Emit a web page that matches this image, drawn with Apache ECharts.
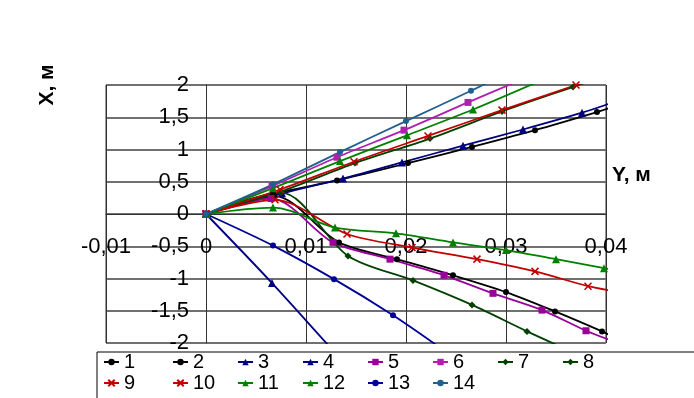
<!DOCTYPE html>
<html>
<head>
<meta charset="utf-8">
<script src="https://cdn.jsdelivr.net/npm/echarts@6/dist/echarts.min.js"></script>
<style>
  html, body { margin: 0; padding: 0; background: #fff; }
  #chart { width: 694px; height: 398px; }
</style>
</head>
<body>
<div id="chart"></div>
<script>
// Кривые X(Y), точки [Y, X] в метрах
const names = ['1', '2', '3', '4', '5', '6', '7', '8', '9', '10', '11', '12', '13', '14'];

const s1 = [[0, 0], [0.0068, 0.28], [0.0133, -0.44], [0.0191, -0.70], [0.0247, -0.95], [0.0300, -1.21], [0.0349, -1.51], [0.0396, -1.82], [0.0405, -1.89]];
const s2 = [[0, 0], [0.0067, 0.31], [0.0131, 0.52], [0.0202, 0.79], [0.0266, 1.04], [0.0329, 1.30], [0.0391, 1.58], [0.0405, 1.65]];
const s3 = [[0, 0], [0.0066, -1.07], [0.0126, -2.1]];
const s4 = [[0, 0], [0.0076, 0.32], [0.0137, 0.55], [0.0196, 0.80], [0.0257, 1.06], [0.0317, 1.31], [0.0376, 1.57], [0.0405, 1.72]];
const s5 = [[0, 0], [0.0065, 0.24], [0.0127, -0.44], [0.0184, -0.70], [0.0238, -0.95], [0.0287, -1.23], [0.0336, -1.49], [0.0380, -1.81], [0.0405, -1.96]];
const s6 = [[0, 0], [0.0066, 0.43], [0.0131, 0.88], [0.0198, 1.30], [0.0262, 1.73], [0.0312, 2.06]];
const s7 = [[0, 0], [0.0075, 0.33], [0.0142, -0.65], [0.0207, -1.03], [0.0266, -1.41], [0.0321, -1.82], [0.0355, -2.06]];
const s8 = [[0, 0], [0.0075, 0.35], [0.0149, 0.79], [0.0224, 1.17], [0.0296, 1.59], [0.0367, 1.97], [0.0380, 2.04]];
const s9 = [[0, 0], [0.0069, 0.22], [0.0141, -0.31], [0.0206, -0.52], [0.0271, -0.70], [0.0329, -0.89], [0.0382, -1.12], [0.0405, -1.19]];
const s10 = [[0, 0], [0.0074, 0.38], [0.0148, 0.81], [0.0222, 1.21], [0.0296, 1.61], [0.0370, 2.00], [0.0382, 2.06]];
const s11 = [[0, 0], [0.0067, 0.10], [0.0129, -0.21], [0.0190, -0.30], [0.0247, -0.44], [0.0300, -0.56], [0.0350, -0.70], [0.0398, -0.84], [0.0405, -0.86]];
const s12 = [[0, 0], [0.0067, 0.40], [0.0134, 0.82], [0.0201, 1.22], [0.0267, 1.62], [0.0332, 2.05]];
const s13 = [[0, 0], [0.0067, -0.49], [0.0128, -1.01], [0.0187, -1.57], [0.0232, -2.05]];
const s14 = [[0, 0], [0.0067, 0.46], [0.0134, 0.96], [0.0200, 1.44], [0.0265, 1.91], [0.0290, 2.1]];

const curves = [s1, s2, s3, s4, s5, s6, s7, s8, s9, s10, s11, s12, s13, s14];

// оформление
const colors = ['#000000', '#000000', '#000080', '#000080', '#990099', '#b020b0', '#004000', '#004000',
    '#c00000', '#c00000', '#008000', '#008000', '#000099', '#1f6090'];
const cross = 'path://M0,0L10,10M10,0L0,10';
const symbols = ['circle', 'circle', 'triangle', 'triangle', 'rect', 'rect', 'diamond', 'diamond',
    cross, cross, 'triangle', 'triangle', 'circle', 'circle'];
const sizes = [6, 6, 8, 8, 7, 7, 7, 7, 7, 7, 8, 8, 6, 6];

const legendX = [103, 172, 237, 302, 367, 432, 497, 562, 103, 172, 237, 302, 367, 432];
const legendY = [352, 352, 352, 352, 352, 352, 352, 352, 373, 373, 373, 373, 373, 373];

const FONT = 'Liberation Sans';

function fmt(v) {
    if (Math.abs(v) < 1e-9) {
        return '0';
    }
    return String(Math.round(v * 1000) / 1000).replace('.', ',');
}

let series = curves.map((d, i) => {
    let isCross = symbols[i] === cross;
    return {
        name: names[i],
        type: 'line',
        smooth: 0.3,
        clip: true,
        symbol: symbols[i],
        symbolSize: sizes[i],
        showAllSymbol: true,
        // последняя точка - только конец линии
        data: d.map((p, k) => k === d.length - 1 ? {value: p, symbol: 'none'} : p),
        lineStyle: {color: colors[i], width: 1.8},
        itemStyle: isCross
            ? {color: colors[i], borderColor: colors[i], borderWidth: 1.5}
            : {color: colors[i]},
        emphasis: {disabled: true},
        z: 2
    };
});

let legends = names.map((n, i) => ({
    data: [n],
    left: legendX[i],
    top: legendY[i],
    padding: 0,
    itemWidth: 15,
    itemHeight: 8,
    selectedMode: false,
    textStyle: {fontSize: 20, fontFamily: FONT, color: '#000'},
    z: 10
}));

let chart = echarts.init(document.getElementById('chart'));
chart.setOption({
    animation: false,
    backgroundColor: '#fff',
    grid: {
        left: 106, right: 88, top: 85, bottom: 55,
        show: true, borderColor: '#333', borderWidth: 1
    },
    xAxis: {
        type: 'value',
        min: -0.01, max: 0.04, interval: 0.01,
        position: 'bottom',
        offset: -129, // ось проходит через X = 0
        axisLine: {onZero: false, lineStyle: {color: '#333', width: 1}},
        axisTick: {show: false},
        axisLabel: {
            formatter: fmt, fontSize: 22, fontFamily: FONT, color: '#000', margin: 22,
            hideOverlap: false, showMinLabel: true, showMaxLabel: true
        },
        splitLine: {show: true, lineStyle: {color: '#333', width: 1}}
    },
    yAxis: {
        type: 'value',
        min: -2, max: 2, interval: 0.5,
        position: 'left',
        offset: -100, // ось проходит через Y = 0
        axisLine: {onZero: false, lineStyle: {color: '#333', width: 1}},
        axisTick: {show: false},
        axisLabel: {
            formatter: fmt, fontSize: 22, fontFamily: FONT, color: '#000', margin: 17,
            hideOverlap: false, showMinLabel: true, showMaxLabel: true
        },
        splitLine: {show: true, lineStyle: {color: '#707070', width: 2}}
    },
    legend: legends,
    graphic: [
        {
            type: 'rect', z: 3,
            shape: {x: 97, y: 352, width: 620, height: 60},
            style: {fill: '#fff', stroke: '#000', lineWidth: 1}
        },
        {
            type: 'text', x: 47, y: 85, rotation: Math.PI / 2,
            style: {text: 'X, м', font: 'bold 21px ' + FONT, fill: '#000', align: 'center', verticalAlign: 'middle'}
        },
        {
            type: 'text', x: 612, y: 175,
            style: {text: 'Y, м', font: 'bold 21px ' + FONT, fill: '#000', align: 'left', verticalAlign: 'middle'}
        }
    ],
    series: series
});
</script>
</body>
</html>
